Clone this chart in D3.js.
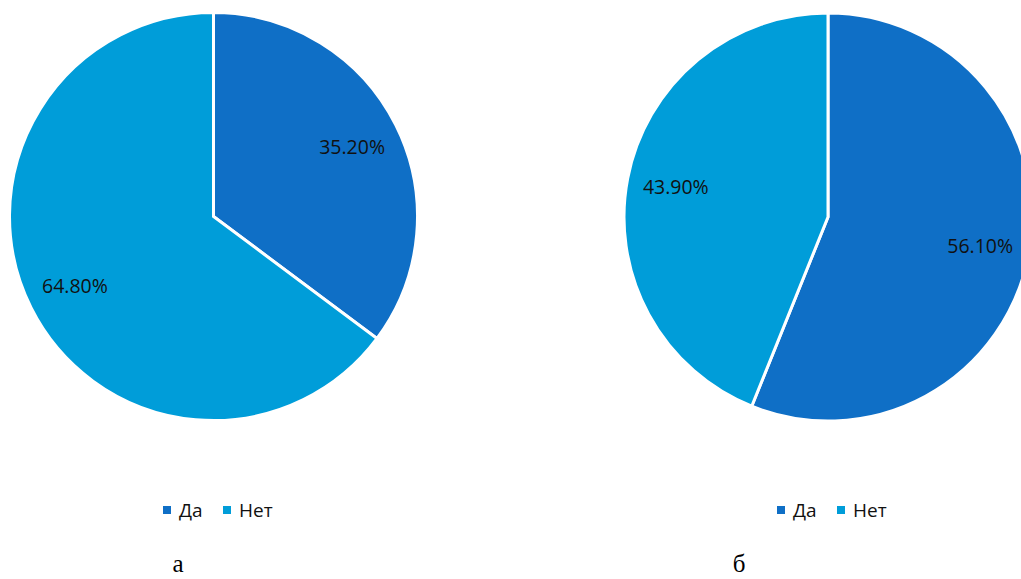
<!DOCTYPE html>
<html><head><meta charset="utf-8">
<script src="https://cdn.jsdelivr.net/npm/d3@7"></script>
<style>body{margin:0;background:#fff;overflow:hidden}</style>
</head><body>
<svg id="c" width="1021" height="579"></svg>
<script>
const categories = ["Да", "Нет"];
const valuesA = [35.2, 64.8];
const valuesB = [56.1, 43.9];
const captions = ["а", "б"];
const colors = ["#0f6fc6", "#009dd9"];

const svg = d3.select("#c");
const pies = [
  {vals: valuesA, cx: 213.5, cy: 216.5, cap: captions[0], capX: 178, legX: 163},
  {vals: valuesB, cx: 828, cy: 217, cap: captions[1], capX: 739, legX: 777}
];
const r = 204;
const pie = d3.pie().sort(null).value(d => d);
const arc = d3.arc().innerRadius(0).outerRadius(r);
const labelArc = d3.arc().innerRadius(r * 0.76).outerRadius(r * 0.76);
const fmt = d => d3.format(".2f")(d) + "%";

pies.forEach(p => {
  const g = svg.append("g").attr("transform", `translate(${p.cx},${p.cy})`);
  const arcs = pie(p.vals);
  g.selectAll("path").data(arcs).join("path")
    .attr("d", arc).attr("fill", (d, i) => colors[i])
    .attr("stroke", "#fff").attr("stroke-width", 3).attr("stroke-linejoin", "miter");
  g.selectAll("text").data(arcs).join("text")
    .attr("transform", d => `translate(${labelArc.centroid(d)})`)
    .attr("text-anchor", "middle").attr("dy", "0.35em")
    .attr("font-family", "'Open Sans', sans-serif").attr("font-size", 19.5)
    .attr("fill", "#111").text(d => fmt(d.data));

  const lg = svg.append("g").attr("transform", `translate(${p.legX},510)`);
  const xs = d3.scaleOrdinal().domain(categories).range([0, 60]);
  categories.forEach((c, i) => {
    lg.append("rect").attr("x", xs(c)).attr("y", -4).attr("width", 8).attr("height", 8).attr("fill", colors[i]);
    lg.append("text").attr("x", xs(c) + 16).attr("y", 0).attr("dy", "0.35em")
      .attr("font-family", "'Open Sans', sans-serif").attr("font-size", 19)
      .attr("fill", "#111").text(c);
  });
  svg.append("text").attr("x", p.capX).attr("y", 572).attr("text-anchor", "middle")
    .attr("font-family", "'Liberation Serif', serif").attr("font-size", 25)
    .attr("fill", "#000").text(p.cap);
});
</script>
</body></html>
